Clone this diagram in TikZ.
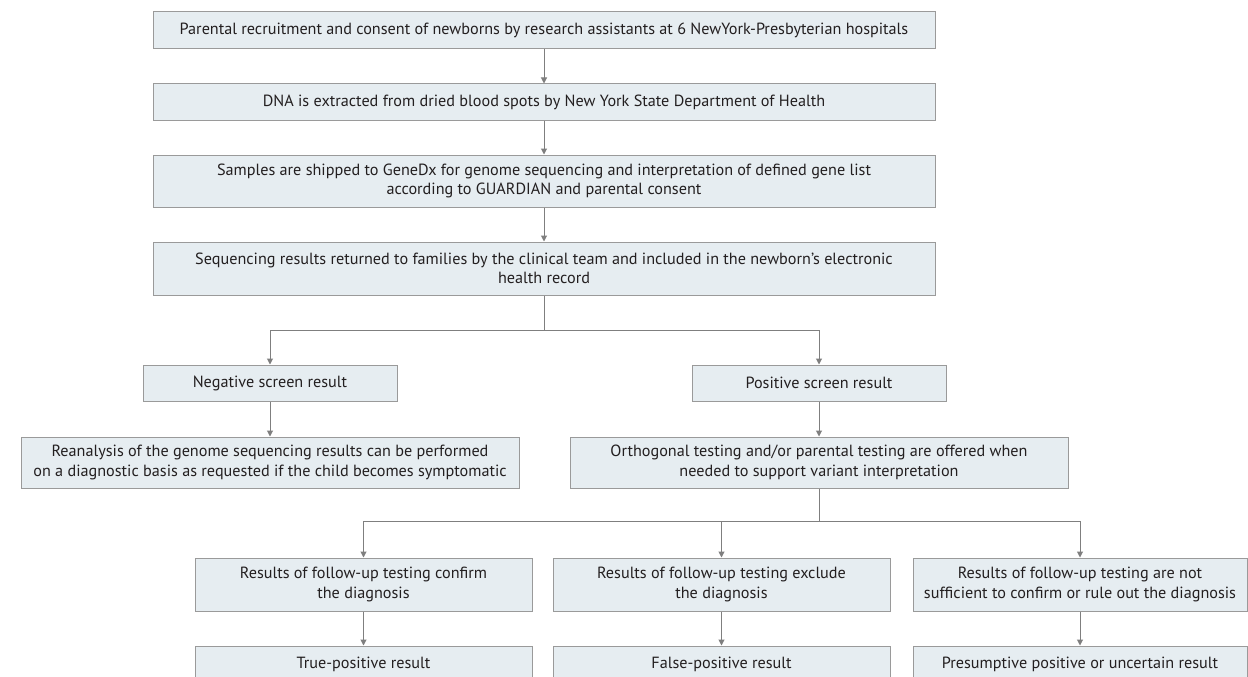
\documentclass[tikz,border=0pt]{standalone}
\usepackage{fontspec}
\setmainfont{PT Sans}
\usetikzlibrary{arrows.meta}
\definecolor{boxfill}{HTML}{E6EDF1}
\definecolor{boxdraw}{HTML}{9A9A9A}
\definecolor{linecol}{HTML}{7F7F7F}
\definecolor{txt}{HTML}{231F20}
\tikzset{
  box/.style={draw=boxdraw, fill=boxfill, line width=1pt, align=center, inner sep=0pt,
    text=txt, font=\fontsize{16.2}{19.5}\selectfont},
  conn/.style={draw=linecol, line width=1pt},
  arr/.style={conn, -{Triangle[width=6pt,length=6pt]}},
}
\begin{document}
\begin{tikzpicture}[x=1pt,y=-1pt]
\clip (0,0) rectangle (1248,677);
\fill[white] (0,0) rectangle (1248,677);
\node[box, minimum width=782pt, minimum height=37pt] (b1) at (544,30.5) {Parental recruitment and consent of newborns by research assistants at 6 NewYork-Presbyterian hospitals};
\node[box, minimum width=782pt, minimum height=36pt] (b2) at (544,102) {DNA is extracted from dried blood spots by New York State Department of Health};
\node[box, minimum width=782pt, minimum height=52pt] (b3) at (544,181) {Samples are shipped to GeneDx for genome sequencing and interpretation of defined gene list\\according to GUARDIAN and parental consent};
\node[box, minimum width=782pt, minimum height=53pt] (b4) at (544,268.5) {Sequencing results returned to families by the clinical team and included in the newborn\symbol{39}s electronic\\health record};
\node[box, minimum width=254pt, minimum height=36pt] (neg) at (270,383) {Negative screen result};
\node[box, minimum width=254pt, minimum height=36pt] (pos) at (819,383) {Positive screen result};
\node[box, minimum width=498pt, minimum height=51pt] (rea) at (270,462.5) {Reanalysis of the genome sequencing results can be performed\\on a diagnostic basis as requested if the child becomes symptomatic};
\node[box, minimum width=498pt, minimum height=51pt] (orth) at (819,462.5) {Orthogonal testing and/or parental testing are offered when\\needed to support variant interpretation};
\node[box, minimum width=337pt, minimum height=53pt] (ca) at (363.5,584.5) {Results of follow-up testing confirm\\the diagnosis};
\node[box, minimum width=337pt, minimum height=53pt] (cb) at (721.5,584.5) {Results of follow-up testing exclude\\the diagnosis};
\node[box, minimum width=334pt, minimum height=53pt] (cc) at (1080,584.5) {Results of follow-up testing are not\\sufficient to confirm or rule out the diagnosis};
\node[box, minimum width=337pt, minimum height=36pt] (ra) at (363.5,664) {True-positive result};
\node[box, minimum width=337pt, minimum height=36pt] (rb) at (721.5,664) {False-positive result};
\node[box, minimum width=334pt, minimum height=36pt] (rc) at (1080,664) {Presumptive positive or uncertain result};
\coordinate (j1) at (544,330);
\coordinate (j2) at (819,521);
\draw[arr] (b1) -- (b2);
\draw[arr] (b2) -- (b3);
\draw[arr] (b3) -- (b4);
\draw[conn] (b4.south) -- (j1);
\draw[arr] (j1) -| (neg.north);
\draw[arr] (j1) -| (pos.north);
\draw[arr] (neg) -- (rea);
\draw[arr] (pos) -- (orth);
\draw[conn] (orth.south) -- (j2);
\draw[arr] (j2) -| (ca.north);
\draw[arr] (cb.north |- j2) -- (cb.north);
\draw[arr] (j2) -| (cc.north);
\draw[arr] (ca) -- (ra);
\draw[arr] (cb) -- (rb);
\draw[arr] (cc) -- (rc);
\end{tikzpicture}
\end{document}
